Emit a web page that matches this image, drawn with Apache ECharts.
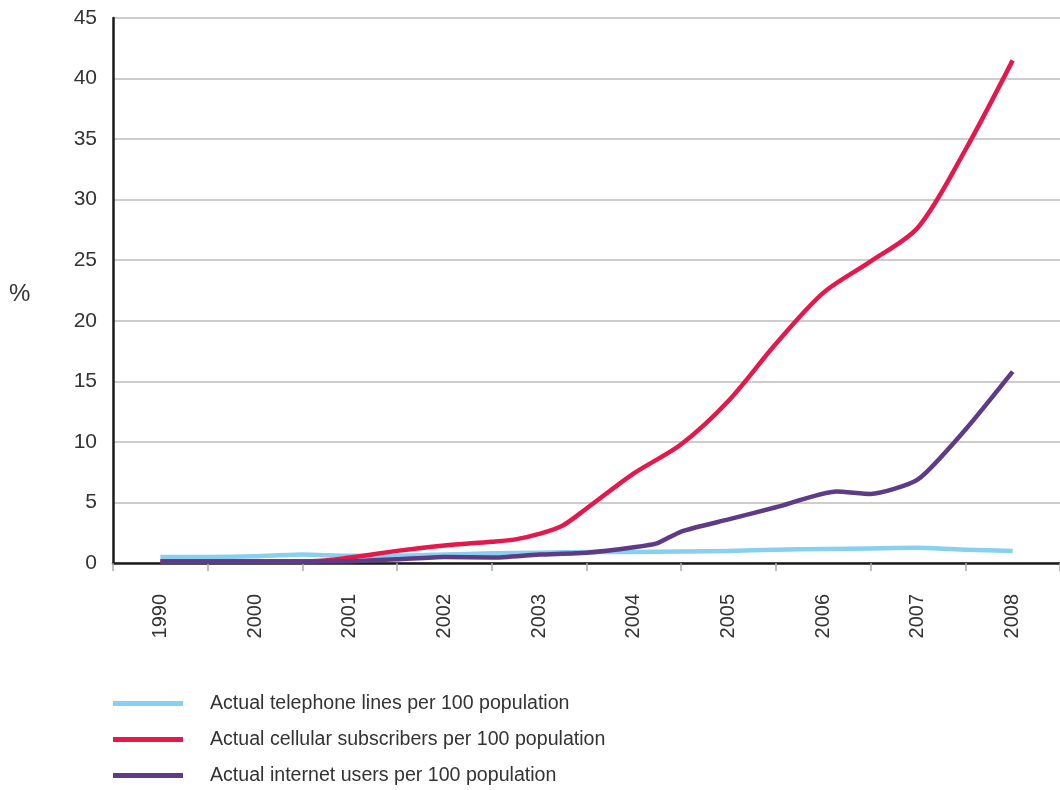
<!DOCTYPE html>
<html>
<head>
<meta charset="utf-8">
<script src="https://cdn.jsdelivr.net/npm/echarts@6/dist/echarts.min.js"></script>
<style>
  html, body { margin: 0; padding: 0; background: #fff; }
  #chart { width: 1060px; height: 790px; }
</style>
</head>
<body>
<div id="chart"></div>
<script>
// Year labels along the bottom axis
const yearLabels = ['1990', '2000', '2001', '2002', '2003', '2004', '2005', '2006', '2007', '2008'];

// Sample positions along the year axis (0 = first label, 9 = last label)
const telephonePos = [0, 0.5, 1, 1.5, 2, 2.5, 3, 3.5, 4, 4.5, 5, 5.5, 6, 6.5, 7, 7.5, 8, 8.5, 9];
const telephoneVals = [0.5, 0.5, 0.55, 0.7, 0.6, 0.6, 0.7, 0.8, 0.85, 0.9, 0.9, 0.95, 1.0, 1.1, 1.15, 1.2, 1.25, 1.1, 1.0];

const cellularPos = [0, 0.5, 1, 1.6, 2, 2.5, 3, 3.5, 3.75, 4, 4.25, 4.5, 5, 5.5, 6, 6.5, 7, 7.5, 8, 8.5, 9];
const cellularVals = [0.15, 0.15, 0.15, 0.15, 0.45, 1.0, 1.45, 1.75, 1.95, 2.4, 3.1, 4.5, 7.4, 9.8, 13.4, 18.1, 22.3, 24.9, 27.7, 34.1, 41.5];

const internetPos = [0, 0.5, 1, 1.5, 2, 2.5, 3, 3.5, 4, 4.5, 5, 5.25, 5.5, 6, 6.5, 7.14, 7.5, 8, 8.5, 9];
const internetVals = [0.1, 0.1, 0.1, 0.1, 0.15, 0.3, 0.5, 0.45, 0.7, 0.85, 1.3, 1.65, 2.6, 3.6, 4.6, 5.9, 5.7, 6.9, 11.0, 15.8];

const seriesNames = [
  'Actual telephone lines per 100 population',
  'Actual cellular subscribers per 100 population',
  'Actual internet users per 100 population'
];
const seriesColors = ['#88d0ef', '#e6174b', '#5d3b86'];

const zip = (xs, ys) => xs.map((x, i) => [x, ys[i]]);

const FONT = "'Liberation Sans Narrow', 'Liberation Sans', Arial, sans-serif";

const chart = echarts.init(document.getElementById('chart'));

const makeSeries = (idx, data, smooth) => ({
  name: seriesNames[idx],
  type: 'line',
  xAxisIndex: 1,
  data: data,
  smooth: smooth,
  showSymbol: false,
  symbol: 'none',
  lineStyle: { color: seriesColors[idx], width: 4.5, cap: 'butt', join: 'round' },
  itemStyle: { color: seriesColors[idx] },
  emphasis: { disabled: true }
});

chart.setOption({
  animation: false,
  backgroundColor: '#ffffff',
  grid: { left: 113, top: 18, width: 952, height: 545 },
  xAxis: [
    {
      type: 'category',
      data: yearLabels,
      boundaryGap: true,
      axisLine: { lineStyle: { color: '#1a1a1a', width: 2.5 } },
      axisTick: { show: true, length: 8, lineStyle: { color: '#aaaaaa', width: 1.5 } },
      axisLabel: {
        rotate: 90,
        margin: 31,
        fontSize: 20,
        color: '#333333',
        fontFamily: FONT
      },
      splitLine: { show: false }
    },
    {
      type: 'value',
      min: -0.5,
      max: 9.5,
      show: false
    }
  ],
  yAxis: {
    type: 'value',
    min: 0,
    max: 45,
    interval: 5,
    axisLine: { show: true, onZero: false, lineStyle: { color: '#1a1a1a', width: 2.5 } },
    axisTick: { show: false },
    axisLabel: { margin: 16, fontSize: 21, color: '#333333', fontFamily: FONT },
    splitLine: { show: true, lineStyle: { color: '#bdbdbd', width: 1.5 } }
  },
  graphic: [
    {
      type: 'text',
      left: 9,
      top: 282,
      style: { text: '%', fontSize: 24, fill: '#333333', fontFamily: FONT }
    }
  ],
  legend: {
    orient: 'vertical',
    left: 113,
    top: 692,
    padding: 0,
    height: 100,
    icon: 'rect',
    itemWidth: 70,
    itemHeight: 5,
    itemGap: 13,
    data: seriesNames,
    textStyle: {
      fontSize: 19.6,
      lineHeight: 23,
      color: '#333333',
      fontFamily: "'Liberation Sans', Arial, sans-serif",
      padding: [0, 0, 0, 22]
    },
    selectedMode: false
  },
  series: [
    makeSeries(0, zip(telephonePos, telephoneVals), 0.2),
    makeSeries(1, zip(cellularPos, cellularVals), 0.3),
    makeSeries(2, zip(internetPos, internetVals), 0.2)
  ]
});
</script>
</body>
</html>
